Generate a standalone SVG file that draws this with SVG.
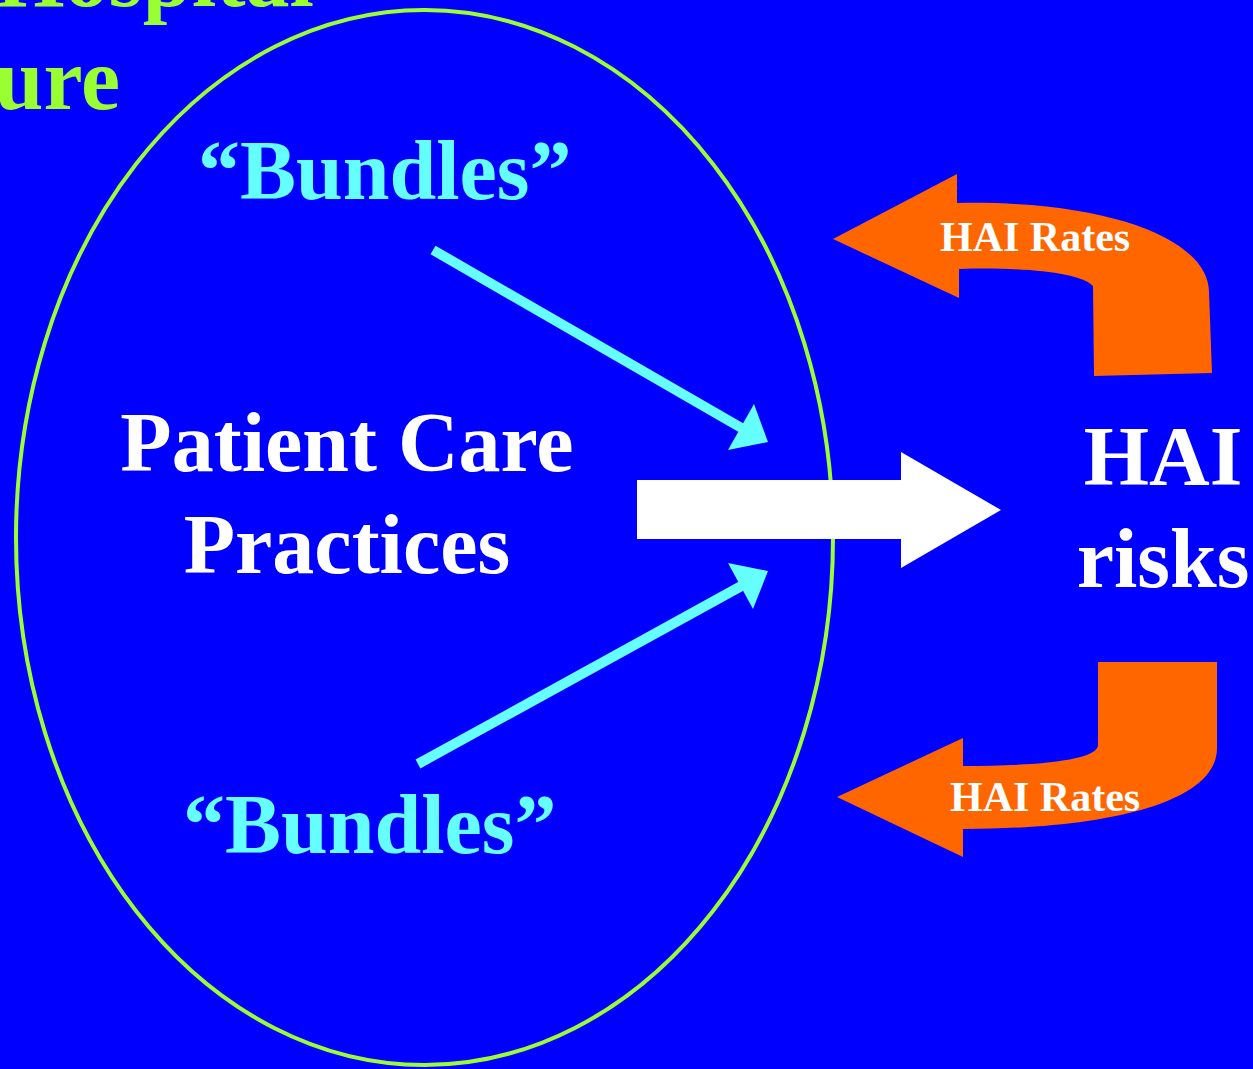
<svg xmlns="http://www.w3.org/2000/svg" width="1253" height="1069" viewBox="0 0 1253 1069">
<style>
text{font-family:"Liberation Serif","Times New Roman",serif;font-weight:bold}
.title{fill:#99FF33;font-size:88px}
.bund{fill:#66FFFF;font-size:84px}
.white{fill:#FFFFFF;font-size:84px}
.rate{fill:#FFFFFF;font-size:42px}
.cyan{stroke:#66FFFF;stroke-width:10;fill:none}
.orange{fill:#FF6600}
</style>
<rect x="0" y="0" width="1253" height="1069" fill="#0000FF"/>
<g id="title">
<text class="title" x="314" y="6" text-anchor="end">Hospital</text>
<text class="title" x="120" y="109" text-anchor="end">Culture</text>
</g>
<g id="culture-ellipse">
<ellipse cx="424.5" cy="537.5" rx="408.5" ry="527.5" fill="none" stroke="#99FF33" stroke-width="4"/>
</g>
<g id="bundles-top"><text class="bund" x="198" y="199">“Bundles”</text></g>
<g id="bundles-bottom"><text class="bund" x="183" y="853">“Bundles”</text></g>
<g id="patient-care">
<text class="white" x="347" y="471" text-anchor="middle">Patient Care</text>
<text class="white" x="347" y="573" text-anchor="middle">Practices</text>
</g>
<g id="hai-risks">
<text class="white" x="1163" y="485" text-anchor="middle">HAI</text>
<text class="white" x="1163" y="587" text-anchor="middle">risks</text>
</g>
<g id="connectors">
<line class="cyan" x1="433" y1="250" x2="745" y2="430"/>
<polygon fill="#66FFFF" points="768,442 754,404 728,450"/>
<line class="cyan" x1="418" y1="764" x2="745" y2="584"/>
<polygon fill="#66FFFF" points="768,571 728,563 753,609"/>
<polygon fill="#FFFFFF" points="637,480 901,480 901,452 1001,510 901,568 901,539 637,539"/>
<path class="orange" d="M957,203 C1110,200 1209,240 1209,292 L1212,373 L1094,376 L1093,286 C1080,272 1020,267 959,269 L959,298 L833,239 L957,174 Z"/>
<path class="orange" d="M1098,662 L1217,662 L1217,748 C1217,805 1100,829 963,829 L963,857 L837,797 L963,738 L963,766 C1040,766 1098,760 1098,745 Z"/>
</g>
<g id="hai-rates-top"><text class="rate" x="940" y="251">HAI Rates</text></g>
<g id="hai-rates-bottom"><text class="rate" x="950" y="811">HAI Rates</text></g>
</svg>
